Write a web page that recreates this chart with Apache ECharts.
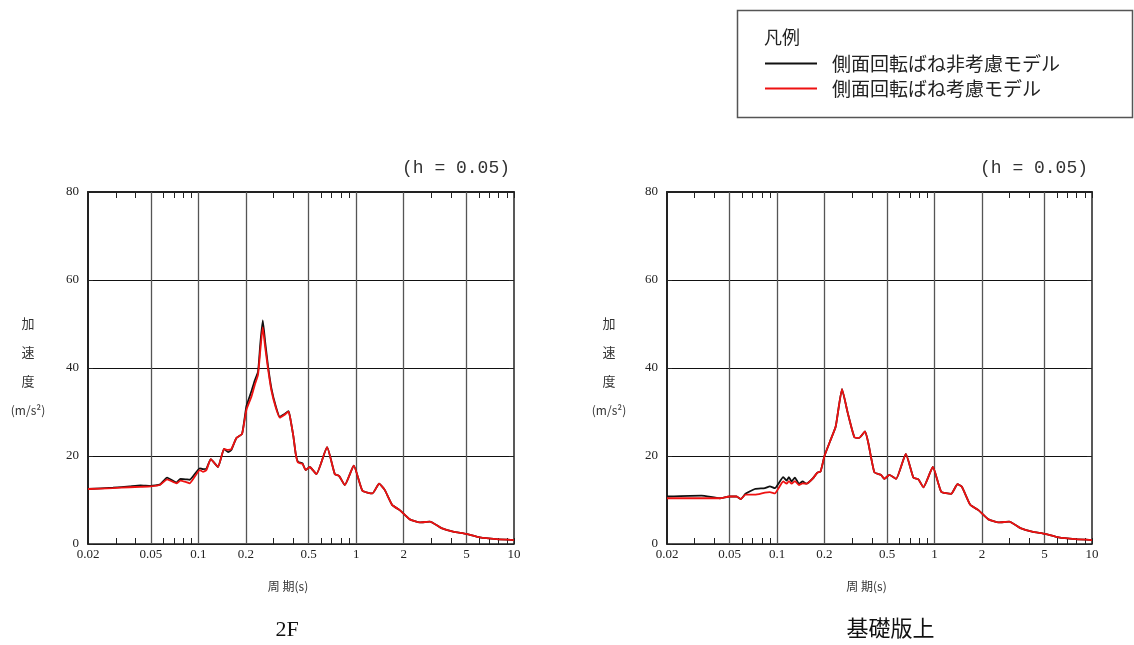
<!DOCTYPE html>
<html><head><meta charset="utf-8">
<script src="https://cdn.jsdelivr.net/npm/echarts@6/dist/echarts.min.js"></script>
<style>html,body{margin:0;padding:0;background:#fff}#c{width:1134px;height:645px}</style>
</head><body><div id="c"></div>
<script>
// ---- data ----
const periods2F   = [0.02,0.0288,0.0367,0.043,0.05,0.057,0.0634,0.0727,0.077,0.0832,0.0882,0.1021,0.107,0.1125,0.1199,0.1333,0.1455,0.1543,0.162,0.1743,0.1892,0.2017,0.217,0.228,0.239,0.247,0.256,0.265,0.2765,0.29,0.3095,0.328,0.35,0.373,0.385,0.40,0.414,0.428,0.457,0.479,0.508,0.56,0.654,0.732,0.779,0.847,0.966,1.096,1.269,1.397,1.517,1.688,1.888,2.187,2.53,2.93,3.47,4.11,5.0,6.07,7.75,10];
const noSpring2F  = [12.5,12.8,13.1,13.3,13.2,13.5,15.1,14.0,14.8,14.7,14.6,17.2,17.0,17.1,19.3,17.5,21.6,20.9,21.4,24.1,25.0,31.3,34.7,37.2,39.2,45.5,50.8,46.0,40.4,35.5,31.3,28.9,29.5,30.2,28.0,24.5,20.5,18.7,18.3,16.8,17.5,15.9,22.0,15.9,15.5,13.4,17.8,12.1,11.5,13.7,12.3,8.9,7.7,5.6,4.9,5.1,3.6,2.8,2.3,1.5,1.1,0.9];
const spring2F    = [12.5,12.7,12.9,13.0,13.1,13.4,14.7,13.8,14.4,14.1,13.8,16.8,16.4,16.8,19.3,17.5,21.6,21.4,21.6,24.1,25.0,30.5,33.5,36.2,38.5,44.0,49.3,44.8,39.8,35.0,31.0,28.7,29.3,30.1,28.0,24.5,20.5,18.5,18.2,16.8,17.5,15.9,22.0,15.9,15.5,13.4,17.8,12.1,11.5,13.7,12.3,8.9,7.7,5.6,4.9,5.1,3.6,2.8,2.3,1.5,1.1,0.9];

const periodsBase  = [0.02,0.0331,0.0433,0.05,0.0553,0.0589,0.063,0.0723,0.0837,0.09,0.0968,0.1094,0.115,0.1189,0.1237,0.1298,0.1377,0.1453,0.154,0.1697,0.18,0.189,0.2,0.2168,0.2357,0.2585,0.281,0.3095,0.3316,0.362,0.38,0.415,0.458,0.48,0.517,0.57,0.657,0.734,0.79,0.85,0.976,1.102,1.275,1.399,1.492,1.686,1.9,2.2,2.55,2.98,3.51,4.16,5.06,6.14,7.84,10];
const noSpringBase = [10.8,11.0,10.4,10.8,10.8,10.2,11.4,12.5,12.7,13.1,12.7,15.2,14.4,15.2,14.2,15.1,13.7,14.2,13.7,15.0,16.2,16.5,20.0,23.3,26.7,35.2,29.8,24.3,24.1,25.6,22.9,16.3,15.7,14.8,15.7,14.8,20.5,15.1,14.7,12.9,17.5,11.9,11.4,13.6,13.0,8.9,7.7,5.6,4.9,5.1,3.6,2.8,2.3,1.5,1.1,0.9];
const springBase   = [10.4,10.4,10.4,10.8,10.8,10.2,11.2,11.2,11.7,11.8,11.5,14.2,13.7,14.3,13.7,14.3,13.4,13.8,13.7,15.0,16.2,16.5,20.0,23.3,26.7,35.2,29.8,24.3,24.1,25.6,22.9,16.3,15.7,14.8,15.7,14.8,20.5,15.1,14.7,12.9,17.5,11.9,11.4,13.6,13.0,8.9,7.7,5.6,4.9,5.1,3.6,2.8,2.3,1.5,1.1,0.9];

const xTickValues = [0.02,0.05,0.1,0.2,0.5,1,2,5,10];
const xTickLabels = ['0.02','0.05','0.1','0.2','0.5','1','2','5','10'];
const xMinorTicks = [0.03,0.04,0.06,0.07,0.08,0.09,0.3,0.4,0.6,0.7,0.8,0.9,3,4,6,7,8,9];
const xGridValues = [0.05,0.1,0.2,0.5,1,2,5];
const yMin = 0, yMax = 80, yStep = 20;
const seriesNames = ['側面回転ばね非考慮モデル','側面回転ばね考慮モデル'];
const panelTitles = ['2F','基礎版上'];
const legendTitle = '凡例';
const dampingLabel = '(h = 0.05)';
const xAxisName = '周 期(s)';
const yAxisNameChars = ['加','速','度','(m/s²)'];

// ---- chart ----
const SERIF = '"Liberation Serif","DejaVu Serif",serif';
const CJK = '"Noto Sans CJK JP","Noto Sans",sans-serif';
const chart = echarts.init(document.getElementById('c'), null, {renderer:'canvas'});

const grids = [
  {left:88, top:192, width:426, height:352},
  {left:667, top:192, width:425, height:352}
];
const allTicks = xTickValues.concat(xMinorTicks).sort((a,b)=>a-b);
function xLabel(v){
  const i = xTickValues.findIndex(t => Math.abs(Math.log10(t) - Math.log10(v)) < 1e-6);
  return i >= 0 ? xTickLabels[i] : '';
}
const xAxes = [], yAxes = [], series = [];
[0,1].forEach(g => {
  ['bottom','top'].forEach(pos => {
    xAxes.push({
      type:'log', logBase:10, gridIndex:g, min:0.02, max:10, position:pos,
      axisLine:{show:true, onZero:false, lineStyle:{color:'#222', width:pos==='top'?2:1.5}},
      axisTick:{show:true, inside:true, length:6, customValues:allTicks, lineStyle:{color:'#222', width:1}},
      axisLabel:{show:pos==='bottom', customValues:xTickValues, formatter:xLabel,
        fontFamily:SERIF, fontSize:13, color:'#222', margin:4},
      splitLine:{show:false}, minorTick:{show:false}, minorSplitLine:{show:false}
    });
  });
  ['left','right'].forEach(pos => {
    yAxes.push({
      type:'value', gridIndex:g, min:yMin, max:yMax, interval:yStep, position:pos,
      axisLine:{show:true, onZero:false, lineStyle:{color:'#222', width:pos==='left'?2:1.5}},
      axisTick:{show:true, inside:true, length:5, lineStyle:{color:'#222'}},
      axisLabel:{show:pos==='left', fontFamily:SERIF, fontSize:13, color:'#222', margin:9},
      splitLine:{show:pos==='left', lineStyle:{color:'#111', width:1}}
    });
  });
});
const panels = [
  {p:periods2F, a:noSpring2F, b:spring2F},
  {p:periodsBase, a:noSpringBase, b:springBase}
];
panels.forEach((d,g) => {
  series.push({
    name:seriesNames[0], type:'line', xAxisIndex:g*2, yAxisIndex:g*2,
    data:d.p.map((t,i)=>[t,d.a[i]]), showSymbol:false, symbol:'none',
    lineStyle:{color:'#111', width:1.8}, itemStyle:{color:'#111'}, smooth:0.15, z:3,
    markLine:{silent:true, symbol:'none', label:{show:false},
      lineStyle:{color:'#555', width:1.3, type:'solid'},
      data:xGridValues.map(v=>({xAxis:v})), z:1}
  });
  series.push({
    name:seriesNames[1], type:'line', xAxisIndex:g*2, yAxisIndex:g*2,
    data:d.p.map((t,i)=>[t,d.b[i]]), showSymbol:false, symbol:'none',
    lineStyle:{color:'#ee1111', width:1.8}, itemStyle:{color:'#ee1111'}, smooth:0.15, z:4
  });
});

const graphics = [
  {type:'rect', shape:{x:737.5, y:10.5, width:395, height:107}, style:{fill:'#fff', stroke:'#555', lineWidth:1.5}, z:-1},
  {type:'text', left:764, top:28, style:{text:legendTitle, font:'18px '+CJK, fill:'#222'}}
];
[0,1].forEach(g => {
  const gr = grids[g];
  const cx = gr.left + gr.width/2;
  graphics.push({type:'text', x:gr.left+gr.width-4, y:168,
    style:{text:dampingLabel, font:'18px "Liberation Mono","DejaVu Sans Mono",monospace', fill:'#333', align:'right', verticalAlign:'middle'}});
  graphics.push({type:'text', x:cx-13, y:586,
    style:{text:xAxisName, font:'12px '+CJK, fill:'#333', align:'center', verticalAlign:'middle'}});
  graphics.push({type:'text', x:cx+(g===0?-14:11), y:630,
    style:{text:panelTitles[g], font:'22px '+SERIF+',"Noto Sans CJK JP"', fill:'#111', align:'center', verticalAlign:'middle'}});
  const yx = g===0 ? 28 : 609;
  yAxisNameChars.forEach((ch,i) => {
    graphics.push({type:'text', x:yx, y:323+29*i,
      style:{text:ch, font:(i<3?'13px ':'12px ')+CJK, fill:'#333', align:'center', verticalAlign:'middle'}});
  });
});

chart.setOption({
  animation:false,
  backgroundColor:'#fff',
  grid:grids,
  xAxis:xAxes,
  yAxis:yAxes,
  series:series,
  legend:{
    data:seriesNames, orient:'vertical', left:765, top:54, itemGap:6, padding:0,
    itemWidth:52, itemHeight:2, icon:'rect',
    textStyle:{fontFamily:CJK, fontSize:19, color:'#222', padding:[0,0,0,10]},
    selectedMode:false
  },
  graphic:graphics
});
</script>
</body></html>
